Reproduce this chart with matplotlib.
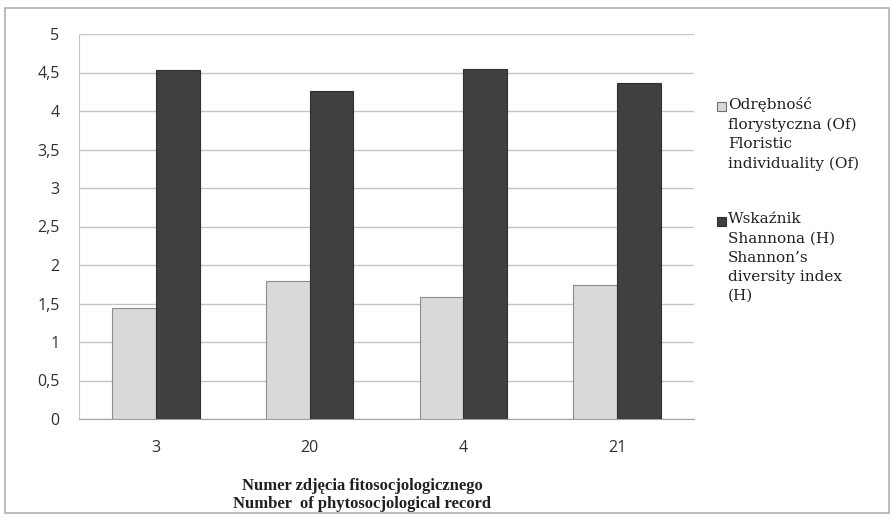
import matplotlib
matplotlib.use("Agg")
import matplotlib.pyplot as plt
from matplotlib.patches import Rectangle
import numpy as np

categories = ["3", "20", "4", "21"]
odrebnosc = [1.44, 1.79, 1.58, 1.74]
shannon = [4.53, 4.26, 4.55, 4.37]
series_labels = [
    "Odrębność\nflorystyczna (Of)\nFloristic\nindividuality (Of)",
    "Wskaźnik\nShannona (H)\nShannon\u2019s\ndiversity index\n(H)",
]
y_ticks = [0, 0.5, 1, 1.5, 2, 2.5, 3, 3.5, 4, 4.5, 5]
y_tick_labels = ["0", "0,5", "1", "1,5", "2", "2,5", "3", "3,5", "4", "4,5", "5"]
x_title = "Numer zdjęcia fitosocjologicznego\nNumber  of phytosocjological record"

W, H = 892, 519
fig = plt.figure(figsize=(W / 100, H / 100), dpi=100)

# outer chart frame
fig.patches.append(Rectangle((5 / W, 1 - 513 / H), 884 / W, 505 / H,
                             transform=fig.transFigure, fill=False,
                             edgecolor="#b0b0b0", linewidth=1.2))

ax = fig.add_axes([79 / W, 1 - 419 / H, 615 / W, 385 / H])
x = np.arange(len(categories))
bw = 0.285
ax.bar(x - bw / 2, odrebnosc, bw, color="#d9d9d9", edgecolor="#8c8c8c",
       linewidth=0.8, zorder=3)
ax.bar(x + bw / 2, shannon, bw, color="#404040", edgecolor="#303030",
       linewidth=0.8, zorder=3)

ax.set_xlim(-0.5, len(categories) - 0.5)
ax.set_ylim(0, 5)
ax.set_yticks(y_ticks)
ax.set_yticklabels(y_tick_labels, fontfamily="Open Sans", fontsize=11.5,
                   color="#303030")
ax.set_xticks(x)
ax.set_xticklabels(categories, fontfamily="Open Sans", fontsize=11.5,
                   color="#303030")
ax.tick_params(axis="x", length=0, pad=15)
ax.tick_params(axis="y", length=0, pad=14)
ax.yaxis.grid(True, color="#c4c4c4", linewidth=1.0, zorder=0)
for s in ["top", "right"]:
    ax.spines[s].set_visible(False)
ax.spines["left"].set_color("#c4c4c4")
ax.spines["bottom"].set_color("#a0a0a0")

fig.text(362 / W, 1 - 495 / H, x_title, ha="center", va="center",
         fontfamily="Liberation Serif", fontweight="bold", fontsize=12,
         linespacing=1.1, color="#202020")

# legend
legend_items = [(series_labels[0], "#d9d9d9", "#707070", 107),
                (series_labels[1], "#404040", "#303030", 222)]
for label, fc, ec, ytop in legend_items:
    fig.patches.append(Rectangle((717 / W, 1 - (ytop + 4) / H), 9 / W, 9 / H,
                                 transform=fig.transFigure, facecolor=fc,
                                 edgecolor=ec, linewidth=0.8))
    fig.text(728 / W, 1 - (ytop - 10) / H, label, ha="left", va="top",
             fontfamily="DejaVu Serif", fontsize=11, linespacing=1.48,
             color="#202020")

fig.savefig("out.png", dpi=100)
